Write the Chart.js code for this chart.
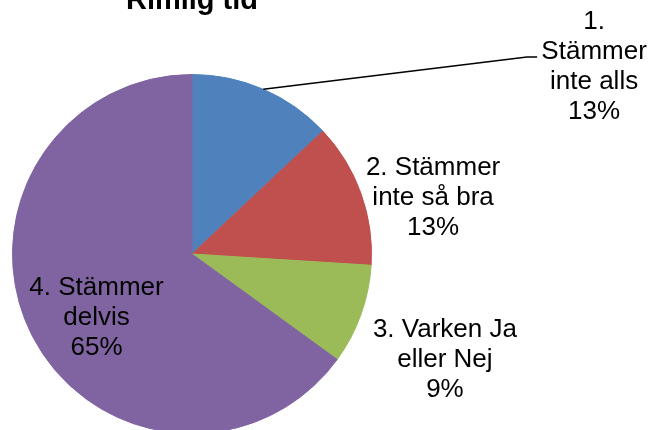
<!DOCTYPE html>
<html>
<head>
<meta charset="utf-8">
<script src="https://cdn.jsdelivr.net/npm/chart.js@4"></script>
<style>
  html, body { margin: 0; padding: 0; background: #ffffff; overflow: hidden; width: 654px; height: 430px; }
  #wrap { position: absolute; left: 0; top: -30px; width: 654px; height: 470px; }
</style>
</head>
<body>
<div id="wrap"><canvas id="c" width="654" height="470"></canvas></div>
<script>
// ---- data ----
const titleText = "Rimlig tid";
const categories = ["1. Stämmer inte alls", "2. Stämmer inte så bra", "3. Varken Ja eller Nej", "4. Stämmer delvis"];
const values = [13, 13, 9, 65];
const labelLines = [
  ["1.", "Stämmer", "inte alls"],
  ["2. Stämmer", "inte så bra"],
  ["3. Varken Ja", "eller Nej"],
  ["4. Stämmer", "delvis"]
];

// ---- styles / layout ----
const colors = ["#4F81BD", "#C0504D", "#9BBB59", "#8064A2"];
// label block centres relative to the pie centre, in units of the pie radius
const labelPos = [
  { x: 2.240, y: -1.040 },
  { x: 1.343, y: -0.312 },
  { x: 1.409, y: 0.590 },
  { x: -0.532, y: 0.358 }
];
const leader = { index: 0, elbow: { x: 1.866, y: -1.0975 }, end: { x: 1.923, y: -1.0975 } };
const labelFont = '26px "Liberation Sans", Arial, sans-serif';
const lineH = 30;

const labelPlugin = {
  id: 'pieLabels',
  afterDatasetsDraw(chart) {
    const meta = chart.getDatasetMeta(0);
    const ctx = chart.ctx;
    const total = values.reduce((a, b) => a + b, 0);
    const a0 = meta.data[0];
    const cx = a0.x, cy = a0.y, r = a0.outerRadius;
    ctx.save();
    // leader line
    const arc = meta.data[leader.index];
    const mid = (arc.startAngle + arc.endAngle) / 2;
    ctx.beginPath();
    ctx.moveTo(cx + Math.cos(mid) * r, cy + Math.sin(mid) * r);
    ctx.lineTo(cx + leader.elbow.x * r, cy + leader.elbow.y * r);
    ctx.lineTo(cx + leader.end.x * r, cy + leader.end.y * r);
    ctx.strokeStyle = '#000000';
    ctx.lineWidth = 1.5;
    ctx.stroke();
    // labels
    ctx.font = labelFont;
    ctx.fillStyle = '#000000';
    ctx.textAlign = 'center';
    ctx.textBaseline = 'middle';
    values.forEach((v, i) => {
      const lines = labelLines[i].concat([Math.round(v / total * 100) + '%']);
      const px = cx + labelPos[i].x * r;
      const py = cy + labelPos[i].y * r;
      const n = lines.length;
      lines.forEach((t, j) => {
        ctx.fillText(t, px, py + (j - (n - 1) / 2) * lineH);
      });
    });
    ctx.restore();
  }
};

new Chart(document.getElementById('c'), {
  type: 'pie',
  data: {
    labels: categories,
    datasets: [{
      data: values,
      backgroundColor: colors,
      borderColor: colors,
      borderWidth: 1,
      hoverOffset: 0,
      offset: 0
    }]
  },
  options: {
    responsive: false,
    animation: false,
    events: [],
    layout: { padding: { left: 12, right: 282, top: 0, bottom: 6 } },
    plugins: {
      legend: { display: false },
      tooltip: { enabled: false },
      title: {
        display: true,
        text: titleText,
        color: '#000000',
        font: { family: '"Liberation Sans", Arial, sans-serif', size: 29, weight: 'bold', lineHeight: 1.2 },
        padding: { top: 14, bottom: 55.2 }
      }
    }
  },
  plugins: [labelPlugin]
});
</script>
</body>
</html>
